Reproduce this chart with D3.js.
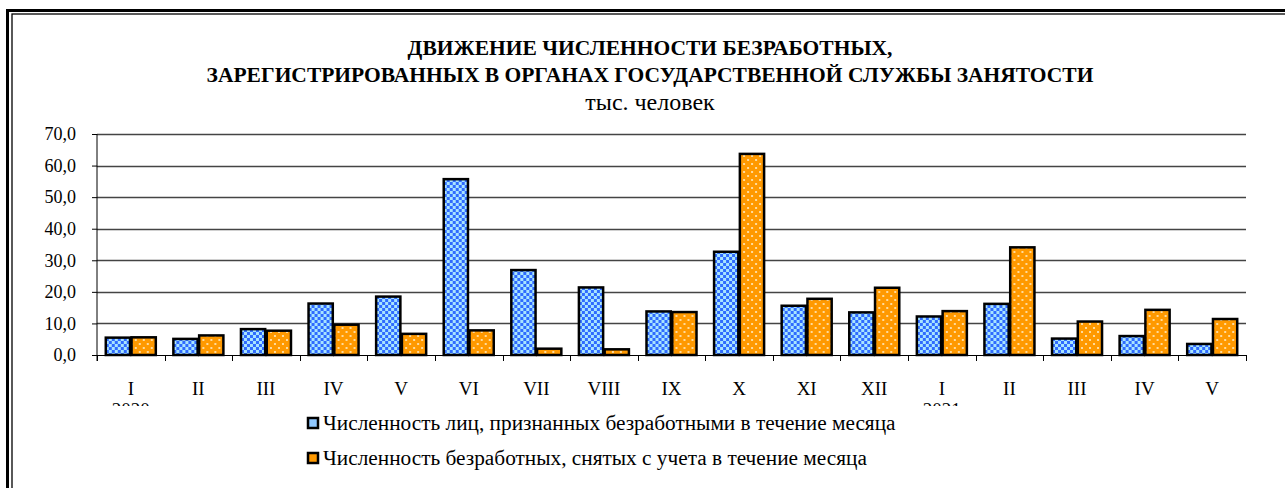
<!DOCTYPE html>
<html>
<head>
<meta charset="utf-8">
<script src="https://cdn.jsdelivr.net/npm/d3@7"></script>
<style>
  body { margin: 0; background: #fff; }
  text { font-family: "Liberation Serif", "DejaVu Serif", serif; }
</style>
</head>
<body>
<div id="chart"></div>
<script>
var months = ["I", "II", "III", "IV", "V", "VI", "VII", "VIII", "IX", "X", "XI", "XII", "I", "II", "III", "IV", "V"];
var years = [{idx: 0, label: "2020"}, {idx: 12, label: "2021"}];
var recognized = [5.5, 5.1, 8.2, 16.3, 18.5, 55.7, 26.9, 21.4, 13.8, 32.7, 15.6, 13.5, 12.2, 16.2, 5.2, 6.0, 3.5];
var removed = [5.6, 6.2, 7.7, 9.6, 6.7, 7.8, 2.0, 1.8, 13.6, 63.7, 17.8, 21.3, 13.9, 34.1, 10.6, 14.3, 11.4];
var seriesNames = ["Численность лиц, признанных безработными в течение месяца",
                   "Численность безработных, снятых с учета в течение месяца"];
var yTicks = [0, 10, 20, 30, 40, 50, 60, 70];

var W = 1285, H = 488;
var serif = "'Liberation Serif', 'DejaVu Serif', serif";
var margin = {top: 134, left: 97, right: 39, bottom: 133};
var width = W - margin.left - margin.right,
    height = H - margin.top - margin.bottom;

var svg = d3.select("#chart").append("svg")
  .attr("width", W)
  .attr("height", H)
  .attr("font-family", serif);

var defs = svg.append("defs");

// blue checkerboard
var pb = defs.append("pattern")
  .attr("id", "checker")
  .attr("patternUnits", "userSpaceOnUse")
  .attr("width", 6).attr("height", 6);
pb.append("rect").attr("width", 6).attr("height", 6).attr("fill", "#a8e4ff");
pb.append("rect").attr("width", 3).attr("height", 3).attr("fill", "#2f6bff");
pb.append("rect").attr("x", 3).attr("y", 3).attr("width", 3).attr("height", 3).attr("fill", "#2f6bff");

// orange with white dots
var po = defs.append("pattern")
  .attr("id", "dots")
  .attr("patternUnits", "userSpaceOnUse")
  .attr("width", 8).attr("height", 8);
po.append("rect").attr("width", 8).attr("height", 8).attr("fill", "#ff9900");
po.append("circle").attr("cx", 2).attr("cy", 2).attr("r", 1).attr("fill", "#fff2d0");
po.append("circle").attr("cx", 6).attr("cy", 6).attr("r", 1).attr("fill", "#fff2d0");

// year labels are cut off just under the month labels
defs.append("clipPath").attr("id", "yearclip")
  .append("rect").attr("x", 0).attr("y", 0).attr("width", W).attr("height", 406);

var fills = ["url(#checker)", "url(#dots)"];

// frame
svg.append("rect")
  .attr("x", 7.5).attr("y", 10.5).attr("width", W + 20).attr("height", H + 20)
  .attr("fill", "none").attr("stroke", "#000").attr("stroke-width", 3);
svg.append("rect")
  .attr("x", 12).attr("y", 14).attr("width", W + 20).attr("height", H + 20)
  .attr("fill", "none").attr("stroke", "#000").attr("stroke-width", 1.3);

// titles
svg.append("text")
  .attr("x", 650).attr("y", 55)
  .attr("text-anchor", "middle")
  .attr("font-weight", "bold").attr("font-size", 21.5)
  .text("ДВИЖЕНИЕ ЧИСЛЕННОСТИ БЕЗРАБОТНЫХ,");
svg.append("text")
  .attr("x", 650).attr("y", 82)
  .attr("text-anchor", "middle")
  .attr("font-weight", "bold").attr("font-size", 21.5)
  .text("ЗАРЕГИСТРИРОВАННЫХ В ОРГАНАХ ГОСУДАРСТВЕННОЙ СЛУЖБЫ ЗАНЯТОСТИ");
svg.append("text")
  .attr("x", 650).attr("y", 110)
  .attr("text-anchor", "middle")
  .attr("font-size", 24)
  .text("тыс. человек");

var g = svg.append("g")
  .attr("transform", "translate(" + margin.left + "," + margin.top + ")");

var x0 = d3.scaleBand()
  .domain(d3.range(months.length))
  .range([0, width])
  .paddingInner(0.26)
  .paddingOuter(0.13);

var x1 = d3.scaleBand()
  .domain([0, 1])
  .range([0, x0.bandwidth()])
  .paddingInner(0.06);

var y = d3.scaleLinear()
  .domain([0, 70])
  .range([height, 0]);

// gridlines
g.selectAll(".grid")
  .data(yTicks.filter(function(d){ return d > 0; }))
  .enter().append("line")
    .attr("x1", 0).attr("x2", width)
    .attr("y1", function(d){ return Math.round(y(d)) + 0.5; })
    .attr("y2", function(d){ return Math.round(y(d)) + 0.5; })
    .attr("stroke", "#444").attr("stroke-width", 1.3);

// y axis
var yAxis = d3.axisLeft(y)
  .tickValues(yTicks)
  .tickSize(5)
  .tickPadding(16)
  .tickFormat(function(d){ return d3.format(".1f")(d).replace(".", ","); });

var yg = g.append("g").call(yAxis)
  .attr("font-family", serif)
  .attr("font-size", 18);
yg.select(".domain").attr("d", "M0," + (height + 6) + "V0");
yg.selectAll("line").attr("stroke", "#000");
yg.selectAll("text").attr("fill", "#000");

// x axis with ticks at category boundaries
var xg = g.append("g").attr("transform", "translate(0," + height + ")");
xg.append("line")
  .attr("x1", 0).attr("x2", width)
  .attr("y1", 0.5).attr("y2", 0.5)
  .attr("stroke", "#000").attr("stroke-width", 1.2);
xg.selectAll(".tk")
  .data(d3.range(months.length + 1))
  .enter().append("line")
    .attr("x1", function(i){ return Math.round(i * x0.step()) + 0.5; })
    .attr("x2", function(i){ return Math.round(i * x0.step()) + 0.5; })
    .attr("y1", 0).attr("y2", 6)
    .attr("stroke", "#000");

xg.selectAll(".mlabel")
  .data(months)
  .enter().append("text")
    .attr("x", function(d, i){ return x0(i) + x0.bandwidth() / 2; })
    .attr("y", 40)
    .attr("text-anchor", "middle")
    .attr("font-size", 19)
    .text(function(d){ return d; });

svg.append("g")
  .attr("clip-path", "url(#yearclip)")
  .selectAll(".ylabel")
  .data(years)
  .enter().append("text")
    .attr("x", function(d){ return margin.left + x0(d.idx) + x0.bandwidth() / 2; })
    .attr("y", 415.5)
    .attr("text-anchor", "middle")
    .attr("font-size", 19)
    .text(function(d){ return d.label; });

// bars
var groups = g.selectAll(".grp")
  .data(months)
  .enter().append("g")
    .attr("transform", function(d, i){ return "translate(" + x0(i) + ",0)"; });

groups.selectAll("rect")
  .data(function(d, i){ return [recognized[i], removed[i]]; })
  .enter().append("rect")
    .attr("x", function(d, j){ return x1(j); })
    .attr("y", function(d){ return y(d); })
    .attr("width", x1.bandwidth())
    .attr("height", function(d){ return height - y(d); })
    .attr("fill", function(d, j){ return fills[j]; })
    .attr("stroke", "#000")
    .attr("stroke-width", 2.5);

// legend
var legendFills = ["#8fc8ff", "#ff9900"];
var items = svg.append("g").selectAll(".item")
  .data(seriesNames)
  .enter().append("g")
    .attr("transform", function(d, i){ return "translate(308," + (418 + i * 35) + ")"; });
items.append("rect")
  .attr("x", 0).attr("y", 0).attr("width", 10).attr("height", 10)
  .attr("fill", function(d, i){ return legendFills[i]; })
  .attr("stroke", "#000").attr("stroke-width", 2.5);
items.append("text")
  .attr("x", 15).attr("y", 12)
  .attr("font-size", 21.3)
  .text(function(d){ return d; });
</script>
</body>
</html>
